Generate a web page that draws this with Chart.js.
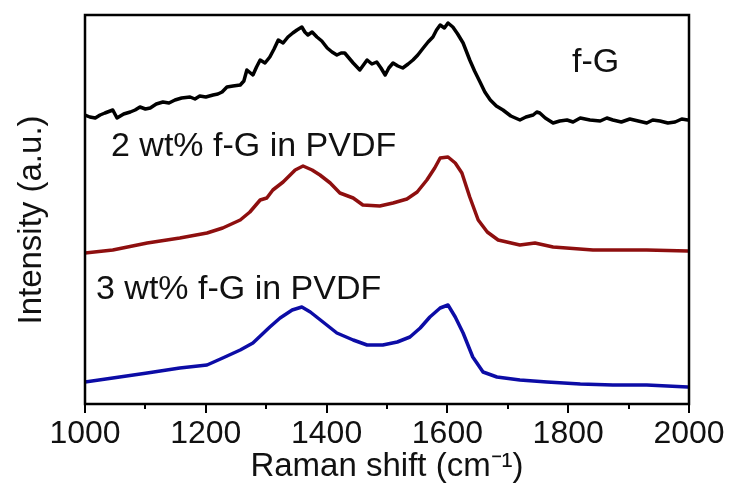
<!DOCTYPE html>
<html>
<head>
<meta charset="utf-8">
<script src="https://cdn.jsdelivr.net/npm/chart.js@4"></script>
<style>
  body { margin: 0; background: #fff; }
  #wrap { width: 731px; height: 487px; }
</style>
</head>
<body>
<div id="wrap"><canvas id="ramanChart"></canvas></div>
<script>
// Raman shift (cm-1) and offset intensity (a.u.)
var shiftFG = [1000,1008,1017,1025,1033,1046,1053,1064,1075,1083,1091,1100,1108,1118,1129,1139,1149,1160,1174,1182,1190,1200,1212,1220,1227,1235,1245,1257,1263,1268,1278,1284,1290,1298,1306,1313,1320,1328,1336,1344,1351,1359,1364,1369,1376,1384,1392,1401,1409,1417,1424,1430,1437,1444,1455,1461,1467,1475,1483,1490,1497,1503,1510,1518,1526,1535,1543,1551,1560,1568,1576,1582,1588,1595,1601,1609,1617,1626,1637,1645,1654,1662,1671,1681,1692,1705,1720,1730,1742,1748,1753,1762,1775,1786,1798,1808,1820,1836,1853,1864,1874,1888,1902,1916,1930,1940,1952,1965,1977,1988,1998];
var intFG   = [289,287,286,289,291,294,286,290,292,294,297,295,296,300,302,301,304,306,307,305,308,307,309,310,312,317,318,319,323,334,329,337,344,341,347,355,364,361,367,371,374,377,372,369,372,367,363,356,352,349,351,351,346,341,334,339,344,340,342,336,329,336,341,338,336,340,344,349,356,362,367,374,379,376,381,377,370,361,344,333,322,312,304,298,294,288,284,287,289,292,291,286,281,283,284,282,286,284,283,286,284,282,285,283,281,284,283,281,282,285,284];

var shift2 = [1000,1046,1103,1157,1202,1228,1257,1273,1290,1301,1311,1328,1348,1361,1376,1389,1406,1422,1444,1460,1488,1510,1533,1550,1566,1579,1588,1601,1613,1624,1637,1651,1666,1684,1720,1745,1775,1841,1930,1998];
var int2   = [151,154,161,166,171,176,184,192,204,206,214,222,234,238,234,229,221,211,206,199,198,201,205,212,224,236,246,247,241,231,207,184,172,164,159,161,157,154,154,153];

var shift3 = [1000,1046,1103,1157,1202,1228,1257,1278,1306,1323,1343,1359,1373,1394,1417,1444,1467,1493,1517,1538,1555,1571,1588,1601,1613,1626,1642,1659,1682,1720,1765,1820,1874,1930,1998];
var int3   = [22,26,31,36,39,46,54,61,77,86,94,97,92,82,71,64,59,59,62,67,76,87,96,99,87,71,47,32,27,24,22,20,19,19,17];

var xTicks = [1000, 1200, 1400, 1600, 1800, 2000];
var xMinorTicks = [1100, 1300, 1500, 1700, 1900];

var FONT = '"Liberation Sans", Arial, sans-serif';

function pts(xs, ys) {
  return xs.map(function (x, i) { return { x: x, y: ys[i] }; });
}

// frame, minor ticks, y title and curve labels
var decor = {
  id: 'decor',
  afterDraw: function (chart) {
    var c = chart.ctx, a = chart.chartArea, xs = chart.scales.x;
    c.save();
    c.strokeStyle = '#000';
    c.lineWidth = 2.5;
    c.strokeRect(a.left, a.top, a.right - a.left, a.bottom - a.top);
    c.lineWidth = 2;
    xMinorTicks.forEach(function (v) {
      var px = Math.round(xs.getPixelForValue(v));
      c.beginPath();
      c.moveTo(px, a.bottom);
      c.lineTo(px, a.bottom + 5);
      c.stroke();
    });
    c.fillStyle = '#111';
    c.font = '34px ' + FONT;
    c.textBaseline = 'alphabetic';
    c.fillText('f-G', 572, 72);
    c.fillText('2 wt% f-G in PVDF', 111, 156);
    c.fillText('3 wt% f-G in PVDF', 96, 299);
    c.translate(32, 220);
    c.rotate(-Math.PI / 2);
    c.font = '33px ' + FONT;
    c.textAlign = 'center';
    c.textBaseline = 'middle';
    c.fillText('Intensity (a.u.)', 0, 0);
    c.restore();
  }
};

var ctx = document.getElementById('ramanChart').getContext('2d');
var myChart = new Chart(ctx, {
  type: 'line',
  data: {
    datasets: [{
      label: 'f-G',
      data: pts(shiftFG, intFG),
      borderColor: '#000000',
      borderWidth: 3.5
    }, {
      label: '2 wt% f-G in PVDF',
      data: pts(shift2, int2),
      borderColor: '#8e0f0f',
      borderWidth: 3.5
    }, {
      label: '3 wt% f-G in PVDF',
      data: pts(shift3, int3),
      borderColor: '#0c0ca6',
      borderWidth: 3.5
    }]
  },
  options: {
    responsive: true,
    maintainAspectRatio: false,
    animation: false,
    layout: { padding: { top: 15, right: 42, left: 0, bottom: 0 } },
    elements: { point: { radius: 0 }, line: { tension: 0, borderJoinStyle: 'round', borderCapStyle: 'round' } },
    plugins: { legend: { display: false }, tooltip: { enabled: false } },
    scales: {
      x: {
        type: 'linear',
        min: 1000,
        max: 2000,
        afterFit: function (s) { s.height = 83; },
        afterBuildTicks: function (s) { s.ticks = xTicks.map(function (v) { return { value: v }; }); },
        ticks: {
          color: '#111', padding: 2, font: { family: FONT, size: 32 }, maxRotation: 0, autoSkip: false,
          callback: function (v) { return String(v); }
        },
        grid: { drawOnChartArea: false, drawTicks: true, tickLength: 9, color: '#000', lineWidth: 2 },
        border: { display: false },
        title: { display: true, text: 'Raman shift (cm\u207B\u00B9)', color: '#111', font: { family: FONT, size: 33 }, padding: { top: 0, bottom: 0 } }
      },
      y: {
        min: 0,
        max: 389,
        afterFit: function (s) { s.width = 85; },
        ticks: { display: false },
        grid: { display: false },
        border: { display: false }
      }
    }
  },
  plugins: [decor]
});
</script>
</body>
</html>
